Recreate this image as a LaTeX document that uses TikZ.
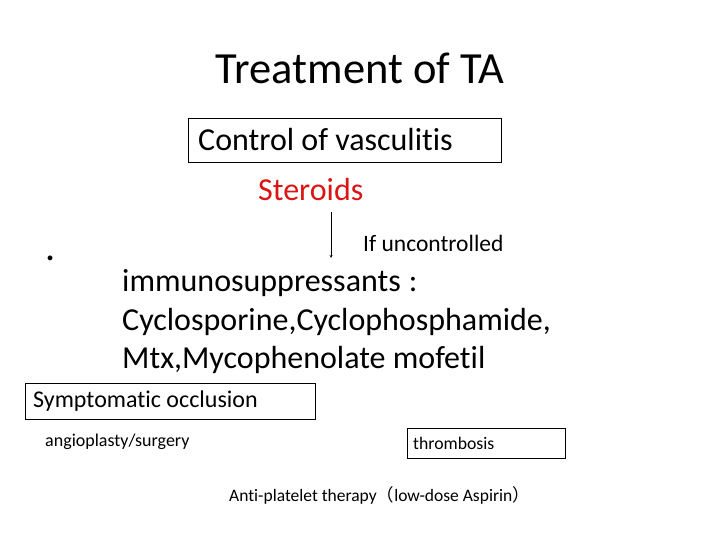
\documentclass[tikz,border=0pt]{standalone}
\usepackage{fontspec}
\setmainfont{Carlito}[Ligatures=NoCommon]
\newfontfamily\cjk{Noto Sans CJK SC}
\usetikzlibrary{positioning}

\begin{document}
\begin{tikzpicture}[x=1pt,y=-1pt,
    plain/.style={inner sep=0pt, anchor=west},
    framed/.style={draw, thin, inner sep=0pt, minimum height=#1},
    framed/.default=36pt]
% page frame
\useasboundingbox (0,0) rectangle (720,540);

% title
\node (title) at (360,68) {\fontsize{44.5}{52}\selectfont Treatment of TA};

% control of vasculitis
\node[framed=44pt, minimum width=313pt, anchor=north west] (control) at (188,118) {};
\node[plain] (controltext) at (198,140) {\fontsize{32}{38}\selectfont Control of vasculitis};

% steroids and arrow
\node[plain, text={rgb,255:red,220;green,20;blue,20}] (steroids) at (258,190) {\fontsize{32}{38}\selectfont Steroids};
\coordinate (arrowtop) at (331,212);
\coordinate (arrowend) at (331,258);
\draw[-stealth, thin] (arrowtop) -- (arrowend);
\node[plain] (uncontrolled) at (363,243) {\fontsize{23.5}{28}\selectfont If uncontrolled};

% bullet
\node[plain] (dot) at (45,258) {\fontsize{40}{48}\selectfont .};

% immunosuppressants
\node[plain, align=left, font=\fontsize{32}{38.5}\selectfont] (immuno) at (122,322) {immunosuppressants\kern8pt:\\Cyclosporine,Cyclophosphamide,\\Mtx,Mycophenolate mofetil};

% symptomatic occlusion
\node[framed=36pt, minimum width=290pt, anchor=north west] (occlusion) at (25,383) {};
\node[plain] (occlusiontext) at (33,401) {\fontsize{24}{29}\selectfont Symptomatic occlusion};
\node[plain] (surgery) at (45,442) {\fontsize{18}{22}\selectfont angioplasty/surgery};

% thrombosis
\node[framed=30pt, minimum width=158pt, anchor=north west] (thrombosis) at (407,428) {};
\node[plain] (thrombosistext) at (413,443) {\fontsize{17.7}{21}\selectfont thrombosis};

% anti-platelet
\node[plain] (antiplatelet) at (229,495) {\fontsize{17.5}{21}\selectfont Anti-platelet therapy{\cjk （}low-dose Aspirin{\cjk ）}};
\end{tikzpicture}
\end{document}
